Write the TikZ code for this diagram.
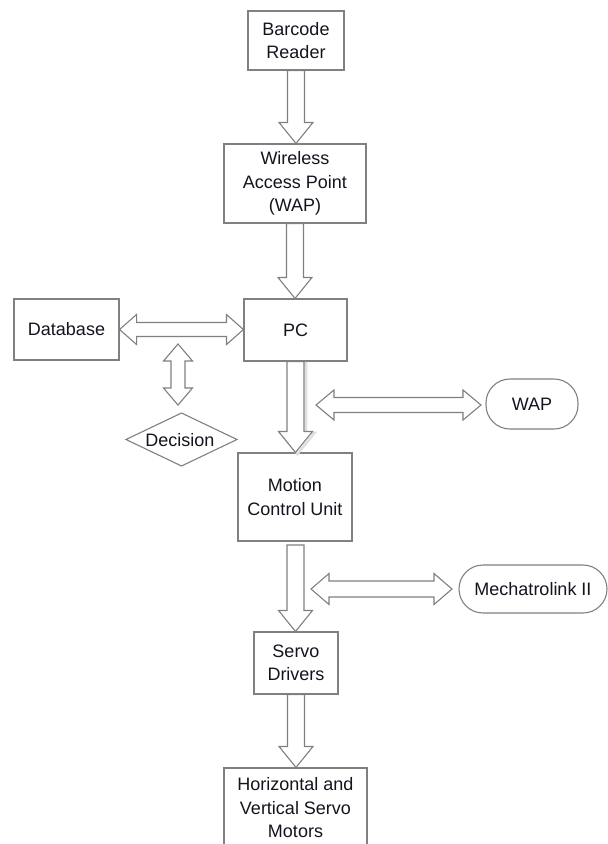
\documentclass[tikz,border=0pt]{standalone}
\usepackage{fontspec}
\setmainfont{Liberation Sans}
\usetikzlibrary{calc}
\definecolor{lc}{RGB}{128,128,128}
\definecolor{tc}{RGB}{20,20,30}
% single downward block arrow from #2 to #3
\newcommand\blkdown[3][]{\draw[blk,#1] let \p1=(#2), \p2=(#3) in
  (\x1-8.5pt,\y1) -- (\x1+8.5pt,\y1) -- (\x1+8.5pt,\y2+21pt) -- (\x1+17pt,\y2+21pt)
  -- (\x1,\y2) -- (\x1-17pt,\y2+21pt) -- (\x1-8.5pt,\y2+21pt) -- cycle;}
% horizontal double block arrow: #1 left tip, #2 right tip, #3 half shaft, #4 half head, #5 head length
\newcommand\blkhdouble[5]{\draw[blk] let \p1=(#1), \p2=(#2) in
  (\x1,\y1) -- (\x1+#5,\y1+#4) -- (\x1+#5,\y1+#3) -- (\x2-#5,\y1+#3) -- (\x2-#5,\y1+#4)
  -- (\x2,\y1) -- (\x2-#5,\y1-#4) -- (\x2-#5,\y1-#3) -- (\x1+#5,\y1-#3) -- (\x1+#5,\y1-#4) -- cycle;}
% vertical double block arrow: #1 top tip, #2 bottom tip
\newcommand\blkvdouble[5]{\draw[blk] let \p1=(#1), \p2=(#2) in
  (\x1,\y1) -- (\x1+#4,\y1-#5) -- (\x1+#3,\y1-#5) -- (\x1+#3,\y2+#5) -- (\x1+#4,\y2+#5)
  -- (\x1,\y2) -- (\x1-#4,\y2+#5) -- (\x1-#3,\y2+#5) -- (\x1-#3,\y1-#5) -- (\x1-#4,\y1-#5) -- cycle;}
\begin{document}
\begin{tikzpicture}[x=1pt,y=-1pt,
  font=\fontsize{18}{23.5}\selectfont,
  box/.style={draw=lc, line width=1.1pt, text=tc, align=center, inner sep=0pt},
  term/.style={box, rounded corners=24pt},
  blk/.style={draw=lc, line width=1.1pt, fill=white, line join=miter}]
\useasboundingbox (0,0) rectangle (608,844);
\fill[white] (0,0) rectangle (608,844);

\node[box, minimum width=96pt, minimum height=59pt] (bar) at (296,40.5) {Barcode\\Reader};
\node[box, minimum width=142pt, minimum height=79pt] (wap1) at (295,183.5) {Wireless\\Access Point\\(WAP)};
\node[box, minimum width=105pt, minimum height=61pt] (db) at (66.5,329.5) {Database};
\node[box, minimum width=103pt, minimum height=62pt] (pc) at (295.5,330) {PC};
\node[text=tc] (dec) at (180,440) {Decision};
\draw[draw=lc, line width=1.1pt] (126,439.5) -- (181.5,413) -- (237,439.5) -- (181.5,466) -- cycle;
\node[term, minimum width=92pt, minimum height=50pt] (wap2) at (532,404) {WAP};
\node[box, minimum width=114pt, minimum height=88pt] (mcu) at (295,497) {Motion\\Control Unit};
\node[term, minimum width=148pt, minimum height=48pt] (mech) at (533,589) {Mechatrolink II};
\node[box, minimum width=84pt, minimum height=62pt] (servo) at (296,663) {Servo\\Drivers};
\node[box, minimum width=143pt, minimum height=80pt] (mot) at (295.5,808) {Horizontal and\\Vertical Servo\\Motors};

\coordinate (vdt) at (178,344);
\coordinate (vdb) at (178,405);
\coordinate (wl) at (316,405);
\coordinate (wr) at (481,405);
\coordinate (ml) at (311,589);
\coordinate (mr) at (452,589);
\coordinate (ms) at (295.5,545);

\blkdown{bar.south}{wap1.north}
\blkdown{wap1.south}{pc.north}
\blkdown[draw=gray!25, line width=2.5pt, transform canvas={shift={(2pt,-1.5pt)}}]{pc.south}{mcu.north}
\blkdown{pc.south}{mcu.north}
\blkdown{ms}{servo.north}
\blkdown{servo.south}{mot.north}

\blkhdouble{db.east}{pc.west}{7pt}{15pt}{17pt}
\blkvdouble{vdt}{vdb}{7pt}{14.5pt}{17pt}
\blkhdouble{wl}{wr}{7.5pt}{15pt}{18pt}
\blkhdouble{ml}{mr}{8pt}{15.5pt}{18pt}
\end{tikzpicture}
\end{document}
